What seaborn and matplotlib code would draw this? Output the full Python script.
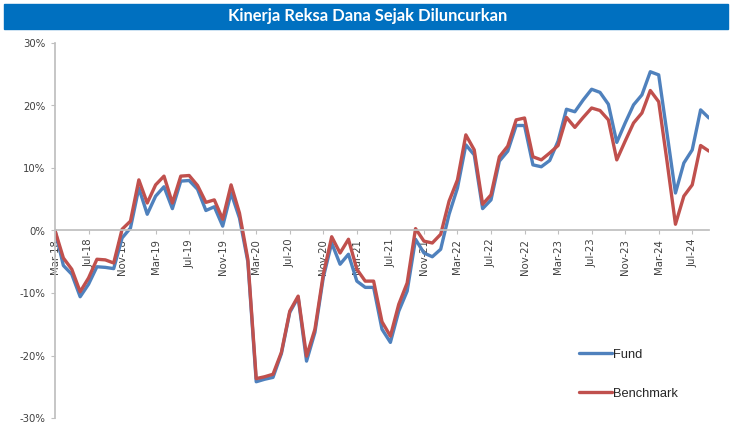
import numpy as np
import pandas as pd
import matplotlib
matplotlib.use("Agg")
import matplotlib.pyplot as plt
from matplotlib.patches import Rectangle
import seaborn as sns

# ---- data ----
title = "Kinerja Reksa Dana Sejak Diluncurkan"
tick_labels = ["Mar-18", "Jul-18", "Nov-18", "Mar-19", "Jul-19", "Nov-19",
               "Mar-20", "Jul-20", "Nov-20", "Mar-21", "Jul-21", "Nov-21",
               "Mar-22", "Jul-22", "Nov-22", "Mar-23", "Jul-23", "Nov-23",
               "Mar-24", "Jul-24"]
series_names = ["Fund", "Benchmark"]
fund = [0.0, -5.6, -7.0, -10.6, -8.6, -5.8, -5.9, -6.1,
        -1.2, 0.4, 6.8, 2.6, 5.5, 7.0, 3.5, 7.9,
        8.0, 6.6, 3.2, 3.8, 0.7, 6.0, 2.0, -5.0,
        -24.2, -23.8, -23.5, -19.7, -13.1, -10.7, -20.9, -16.3,
        -7.5, -2.0, -5.4, -3.8, -8.1, -9.1, -9.1, -15.8,
        -17.9, -12.9, -9.7, -1.4, -3.6, -4.2, -3.0, 2.6,
        6.8, 13.7, 12.1, 3.5, 4.9, 11.1, 12.7, 16.8,
        16.8, 10.5, 10.2, 11.2, 14.3, 19.4, 19.0, 20.9,
        22.6, 22.1, 20.2, 14.1, 17.2, 20.1, 21.7, 25.4,
        24.9, 15.5, 6.0, 10.8, 12.9, 19.3, 18.0]
benchmark = [0.0, -4.4, -6.2, -9.8, -7.6, -4.6, -4.7, -5.2,
             0.2, 1.5, 8.1, 4.4, 7.3, 8.7, 4.4, 8.7,
             8.8, 7.2, 4.5, 4.9, 1.8, 7.3, 2.8, -4.6,
             -23.7, -23.4, -23.0, -19.5, -12.9, -10.5, -20.1, -15.8,
             -7.0, -1.0, -3.6, -1.4, -6.2, -8.1, -8.1, -14.6,
             -16.9, -11.8, -8.4, 0.3, -1.7, -2.0, -0.6, 4.7,
             8.1, 15.3, 12.9, 4.2, 5.7, 11.8, 13.5, 17.7,
             18.0, 11.8, 11.3, 12.4, 13.6, 18.1, 16.5, 18.1,
             19.6, 19.2, 17.7, 11.3, 14.3, 17.2, 18.8, 22.4,
             20.6, 11.0, 1.0, 5.5, 7.3, 13.6, 12.7]
y_ticks = [-30, -20, -10, 0, 10, 20, 30]
colors = ["#4F81BD", "#C0504D"]

n = len(fund)
df = pd.DataFrame({
    "month": np.concatenate([np.arange(n), np.arange(n)]),
    "value": np.concatenate([fund, benchmark]),
    "series": [series_names[0]] * n + [series_names[1]] * n,
})

sns.set_theme(style="white")
plt.rcParams["font.family"] = ["DejaVu Sans"]

fig = plt.figure(figsize=(7.32, 4.23), dpi=100)
ax = fig.add_axes([55 / 732, 5 / 423, (709 - 55) / 732, (418 - 43) / 423])

sns.lineplot(data=df, x="month", y="value", hue="series",
             palette=dict(zip(series_names, colors)), linewidth=2.4,
             ax=ax, legend=False)

for s in ["top", "right"]:
    ax.spines[s].set_visible(False)
ax.spines["left"].set_color("#BFBFBF")
ax.spines["bottom"].set_color("#BFBFBF")
ax.spines["bottom"].set_position(("data", 0))

ax.set_xlim(0, n - 1)
ax.set_ylim(-30, 30)
ax.set_xlabel("")
ax.set_ylabel("")

ax.set_yticks(y_ticks)
ax.set_yticklabels([f"{v}%" for v in y_ticks])
ax.set_xticks(np.arange(0, n, 4)[:len(tick_labels)])
ax.set_xticklabels(tick_labels)
ax.tick_params(axis="both", which="both", length=3, color="#BFBFBF", width=0.8,
               left=True, bottom=True, labelsize=7.3, labelcolor="#404040")
ax.tick_params(axis="x", pad=3, labelrotation=90)
ax.tick_params(axis="y", pad=4)
ax.patch.set_alpha(0)

# legend
handles = [plt.Line2D([], [], color=c, linewidth=2.4) for c in colors]
leg = fig.legend(handles, series_names, loc="upper left",
                 bbox_to_anchor=(567 / 732, 1 - 337 / 423), frameon=False,
                 handlelength=2.6, handletextpad=0.1, labelspacing=2.1,
                 prop={"family": "Liberation Sans", "size": 9.3})

# title bar
fig.patches.append(Rectangle((4 / 732, 1 - 29 / 423), 724 / 732, 25 / 423,
                             transform=fig.transFigure, color="#0070C0", zorder=0))
fig.text(368 / 732, 1 - 16.5 / 423, title, ha="center", va="center",
         color="white", fontsize=11.9, fontweight="bold", family="Lato")

fig.savefig("out.png", dpi=100)
